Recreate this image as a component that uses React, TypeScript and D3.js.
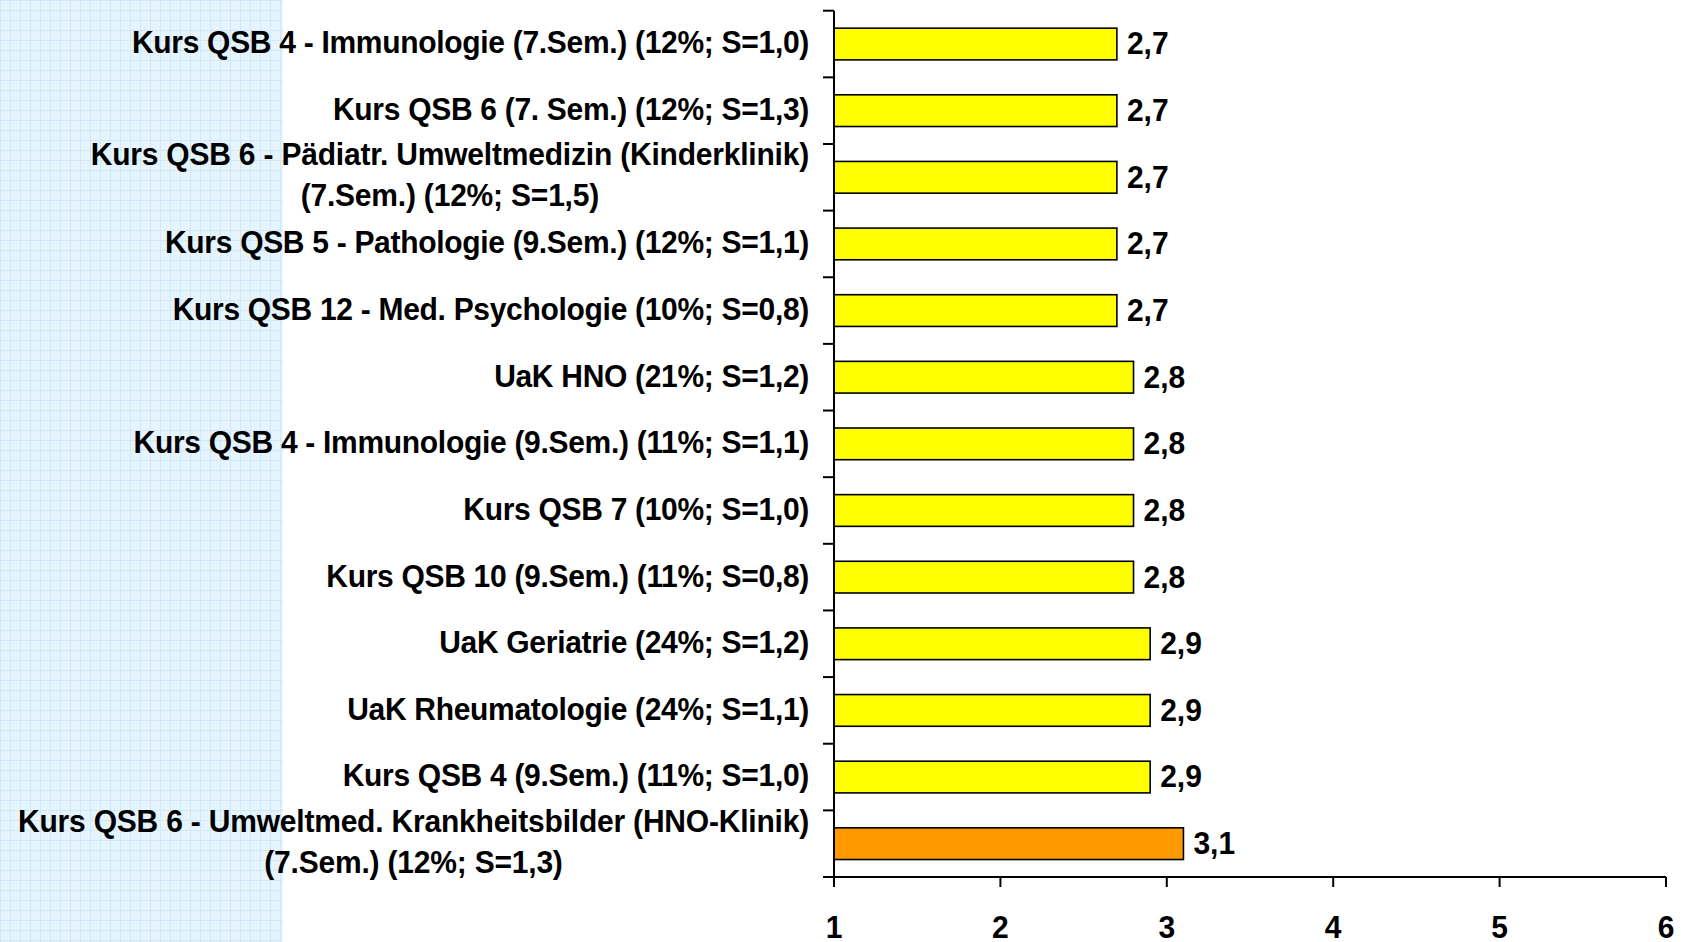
import React from "react";
import * as d3 from "d3";

const categories: string[] = [
  "Kurs QSB 4 - Immunologie (7.Sem.) (12%; S=1,0)",
  "Kurs QSB 6 (7. Sem.) (12%; S=1,3)",
  "Kurs QSB 6 - Pädiatr. Umweltmedizin (Kinderklinik)\n(7.Sem.) (12%; S=1,5)",
  "Kurs QSB 5 - Pathologie (9.Sem.) (12%; S=1,1)",
  "Kurs QSB 12 - Med. Psychologie (10%; S=0,8)",
  "UaK HNO (21%; S=1,2)",
  "Kurs QSB 4 - Immunologie (9.Sem.) (11%; S=1,1)",
  "Kurs QSB 7 (10%; S=1,0)",
  "Kurs QSB 10 (9.Sem.) (11%; S=0,8)",
  "UaK Geriatrie (24%; S=1,2)",
  "UaK Rheumatologie (24%; S=1,1)",
  "Kurs QSB 4 (9.Sem.) (11%; S=1,0)",
  "Kurs QSB 6 - Umweltmed. Krankheitsbilder (HNO-Klinik)\n(7.Sem.) (12%; S=1,3)",
];
const values: number[] = [2.7, 2.7, 2.7, 2.7, 2.7, 2.8, 2.8, 2.8, 2.8, 2.9, 2.9, 2.9, 3.1];
const highlighted: boolean[] = [false, false, false, false, false, false, false, false, false, false, false, false, true];
const xTicks: number[] = [1, 2, 3, 4, 5, 6];

const W = 1681;
const H = 942;
const FONT = "'Liberation Sans', Arial, sans-serif";
const SY = 1.06;
const LS = -0.3;

function T(props: { x: number; y: number; anchor: string; children: React.ReactNode; ls?: number; gref?: (el: SVGGElement | null) => void }) {
  return (
    <g ref={props.gref} transform={`translate(${props.x},${props.y}) scale(1,${SY})`}>
      <text
        x={0}
        y={0}
        textAnchor={props.anchor as any}
        dominantBaseline="middle"
        fontSize={30}
        fontWeight="bold"
        letterSpacing={props.ls ?? LS}
        fill="#000"
      >
        {props.children}
      </text>
    </g>
  );
}

export default function App() {
  const x = d3.scaleLinear().domain([1, 6]).range([834, 1666]);
  const y = d3.scaleBand<number>().domain(d3.range(categories.length)).range([10.7, 877]).padding(0);
  const bw = y.bandwidth();
  const barH = bw * 0.476;
  const boundaries = d3.range(categories.length + 1).map((i) => 10.7 + i * bw);
  const fmt = (v: number) => d3.format(".1f")(v).replace(".", ",");

  return (
    <svg
      width={W}
      height={H}
      style={{ position: "absolute", left: 0, top: 0, background: "#fff" }}
      fontFamily={FONT}
    >
      <defs>
        <pattern id="grid" width={10} height={10} patternUnits="userSpaceOnUse">
          <rect width={10} height={10} fill="#E6F4FE" />
          <path d="M 0 0.5 L 10 0.5 M 0.5 0 L 0.5 10" stroke="#D0E8FA" strokeWidth={1} />
        </pattern>
      </defs>
      <rect x={0} y={0} width={283} height={H} fill="url(#grid)" />

      {/* bars */}
      {values.map((v, i) => {
        const cy = (y(i) as number) + bw / 2;
        return (
          <g key={i}>
            <rect
              x={x(1)}
              y={cy - barH / 2}
              width={x(v) - x(1)}
              height={barH}
              fill={highlighted[i] ? "#FF9900" : "#FFFF00"}
              stroke="#000"
              strokeWidth={1.6}
            />
            <T x={x(v) + 10} y={cy + 2} anchor="start" ls={0}>
              {fmt(v)}
            </T>
          </g>
        );
      })}

      {/* category labels */}
      {categories.map((c, i) => {
        const cy = (y(i) as number) + bw / 2;
        const lines = c.split("\n");
        if (lines.length === 1) {
          return (
            <T key={i} x={809} y={cy + 1} anchor="end">
              {c}
            </T>
          );
        }
        return (
          <g
            key={i}
            ref={(el) => {
              if (!el) return;
              const gs = Array.from(el.children) as SVGGElement[];
              let maxW = 0;
              gs.forEach((g) => {
                const t = g.querySelector("text") as SVGTextElement;
                maxW = Math.max(maxW, t.getComputedTextLength());
              });
              const cx = 809 - maxW / 2;
              gs.forEach((g, k) => {
                const yy = cy + (k === 0 ? -20.5 : 20.5);
                g.setAttribute("transform", `translate(${cx},${yy}) scale(1,${SY})`);
              });
            }}
          >
            <T x={809} y={cy - 20.5} anchor="middle" ls={-0.2}>
              {lines[0]}
            </T>
            <T x={809} y={cy + 20.5} anchor="middle" ls={-0.2}>
              {lines[1]}
            </T>
          </g>
        );
      })}

      {/* y axis */}
      <line x1={x(1)} x2={x(1)} y1={boundaries[0]} y2={877} stroke="#000" strokeWidth={2} />
      {boundaries.map((b, i) => (
        <line key={i} x1={823} x2={x(1)} y1={b} y2={b} stroke="#000" strokeWidth={2} />
      ))}

      {/* x axis */}
      <line x1={823} x2={x(6)} y1={877} y2={877} stroke="#000" strokeWidth={2} />
      {xTicks.map((t) => (
        <g key={t}>
          <line x1={x(t)} x2={x(t)} y1={877} y2={887} stroke="#000" strokeWidth={2} />
          <T x={x(t)} y={929.5} anchor="middle" ls={0}>
            {t}
          </T>
        </g>
      ))}
    </svg>
  );
}
